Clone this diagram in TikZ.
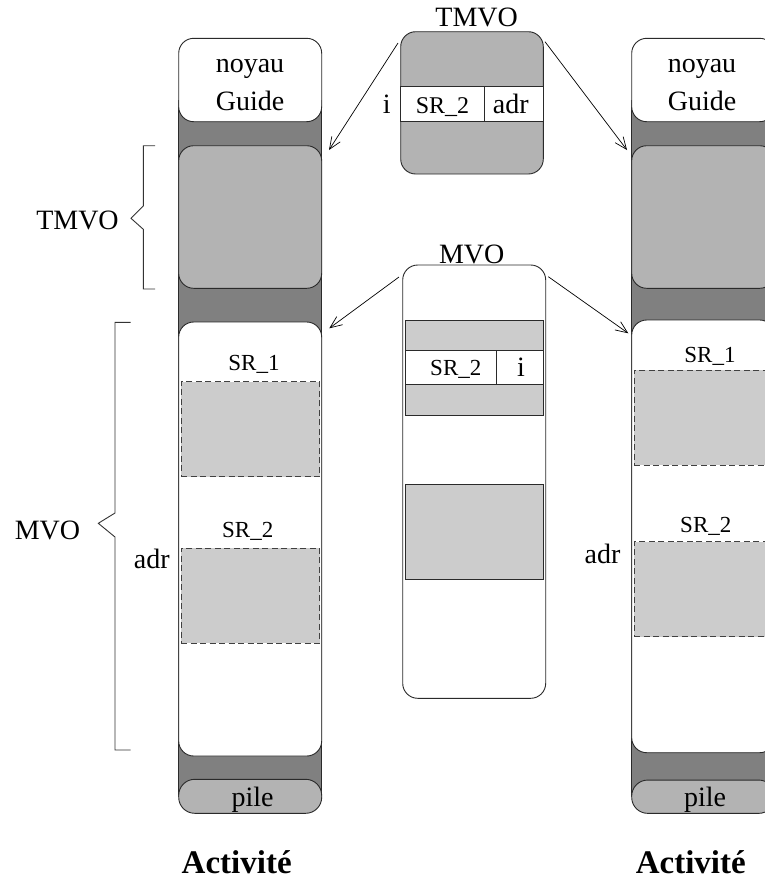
\documentclass[tikz,border=0pt]{standalone}
\usepackage{fontspec}
\setmainfont{Liberation Serif}
\usetikzlibrary{arrows.meta}
\definecolor{dkgray}{HTML}{808080}
\definecolor{mdgray}{HTML}{B3B3B3}
\definecolor{ltgray}{HTML}{CCCCCC}
\definecolor{edge}{HTML}{2A2A2A}
\begin{document}
\begin{tikzpicture}[x=1pt,y=-1pt,
  box/.style={draw=edge, line width=0.9pt, rounded corners=15pt, inner sep=0pt, outer sep=0pt},
  plain/.style={draw=edge, line width=0.9pt, inner sep=0pt, outer sep=0pt},
  col/.style={draw=edge, line width=0.9pt, fill=dkgray},
  txt/.style={font=\fontsize{28}{30}\selectfont, anchor=base, inner sep=0pt},
  sr/.style={font=\fontsize{23}{25}\selectfont, anchor=base, inner sep=0pt},
  act/.style={font=\bfseries\fontsize{33}{35}\selectfont, anchor=base, inner sep=0pt},
  dbox/.style={draw=black!75, dash pattern=on 6pt off 3.5pt, fill=ltgray, line width=0.9pt, inner sep=0pt, outer sep=0pt},
  arr/.style={-{Straight Barb[length=12pt,width=10pt]}, line width=0.7pt},
  brace/.style={draw=black!80, line width=0.9pt}]
\useasboundingbox (0,0) rectangle (765,879);

% ---------- left column ----------
\path[col] (178.7,100) rectangle (321.7,796);
\node[box, fill=white, minimum width=143pt, minimum height=83.4pt] (noyauL) at (250.2,80) {};
\node[box, fill=mdgray, minimum width=143pt, minimum height=142.6pt] (tmvoL) at (250.2,217) {};
\node[box, fill=white, minimum width=143pt, minimum height=434pt] (mvoL) at (250.2,539) {};
\node[box, rounded corners=16pt, fill=mdgray, minimum width=143pt, minimum height=34pt] (pileL) at (250.2,796.3) {};
\node[dbox, minimum width=138.7pt, minimum height=95pt] (sr1L) at (250.35,429.2) {};
\node[dbox, minimum width=138.7pt, minimum height=95pt] (sr2L) at (250.35,595.5) {};
\node[txt] (tnoyauL) at (250,72) {noyau};
\node[txt] (tguideL) at (250,110) {Guide};
\node[sr] (tsr1L) at (254,370) {SR\_1};
\node[sr] (tsr2L) at (247.7,537) {SR\_2};
\node[txt] (tadrL) at (151.7,568) {adr};
\node[txt] (tpileL) at (252.5,806) {pile};
\node[act] (actL) at (236.7,873) {Activité};

% ---------- right column ----------
\path[col] (631.7,100) rectangle (774.7,796);
\node[box, fill=white, minimum width=143pt, minimum height=83.4pt] (noyauR) at (703.2,80) {};
\node[box, fill=mdgray, minimum width=143pt, minimum height=142.6pt] (tmvoR) at (703.2,217) {};
\node[box, fill=white, minimum width=143pt, minimum height=432.7pt] (mvoR) at (703.2,536.35) {};
\node[box, rounded corners=16pt, fill=mdgray, minimum width=143pt, minimum height=33.3pt] (pileR) at (703.2,796.7) {};
\node[dbox, minimum width=138.7pt, minimum height=95pt] (sr1R) at (703.35,417.5) {};
\node[dbox, minimum width=138.7pt, minimum height=95pt] (sr2R) at (703.35,589.2) {};
\node[txt] (tnoyauR) at (702,72) {noyau};
\node[txt] (tguideR) at (702,110) {Guide};
\node[sr] (tsr1R) at (710,362.7) {SR\_1};
\node[sr] (tsr2R) at (705.8,532.7) {SR\_2};
\node[txt] (tadrR) at (602.5,563) {adr};
\node[txt] (tpileR) at (705,806) {pile};
\node[act] (actR) at (690.8,873) {Activité};

% ---------- centre TMVO ----------
\node[box, fill=mdgray, minimum width=142.6pt, minimum height=142.3pt] (tmvoC) at (472,102.85) {};
\node[plain, fill=white, minimum width=142.6pt, minimum height=35.7pt] (stripT) at (472,103.85) {};
\draw[edge, line width=0.9pt] (484.3,86) -- (484.3,121.7);
\node[txt] (tTMVO) at (476.7,26.7) {TMVO};
\node[txt] (tiT) at (386.7,113.3) {i};
\node[sr, font=\fontsize{24}{26}\selectfont] (tsrT) at (442.5,113) {SR\_2};
\node[txt] (tadrT) at (510.8,113) {adr};

% ---------- centre MVO ----------
\node[box, fill=white, minimum width=143pt, minimum height=433.3pt] (mvoC) at (474.2,481.65) {};
\node[plain, fill=ltgray, minimum width=137.6pt, minimum height=95pt] (grpM) at (474.5,367.5) {};
\node[plain, fill=white, minimum width=137.6pt, minimum height=33.3pt] (stripM) at (474.5,367.35) {};
\draw[edge, line width=0.9pt] (496,350.7) -- (496,384);
\node[plain, fill=ltgray, minimum width=137.6pt, minimum height=95pt] (blkM) at (474.5,531.8) {};
\node[txt] (tMVO) at (471.7,263) {MVO};
\node[sr] (tsrM) at (455.8,375) {SR\_2};
\node[txt] (tiM) at (521,376.7) {i};

% ---------- braces ----------
\node[txt] (bTMVO) at (77.5,229.3) {TMVO};
\draw[brace] (155,145.7) -- (143.3,145.7) -- (143.3,206) -- (131,218.3) -- (143.3,229.3) -- (143.3,289) -- (155,289);
\node[txt] (bMVO) at (47.5,539) {MVO};
\draw[brace] (130.7,322.3) -- (115,322.3) -- (115,513) -- (98.3,523.3) -- (115,537) -- (115,750) -- (130.7,750);

% ---------- arrows ----------
\coordinate (a1s) at (398,43);
\coordinate (a1e) at (329,150);
\coordinate (a2s) at (545,41.7);
\coordinate (a2e) at (627,150);
\coordinate (a3s) at (399,277);
\coordinate (a3e) at (329.3,328.3);
\coordinate (a4s) at (548.3,276.7);
\coordinate (a4e) at (628.3,333.3);
\draw[arr] (a1s) -- (a1e);
\draw[arr] (a2s) -- (a2e);
\draw[arr] (a3s) -- (a3e);
\draw[arr] (a4s) -- (a4e);
\end{tikzpicture}
\end{document}
